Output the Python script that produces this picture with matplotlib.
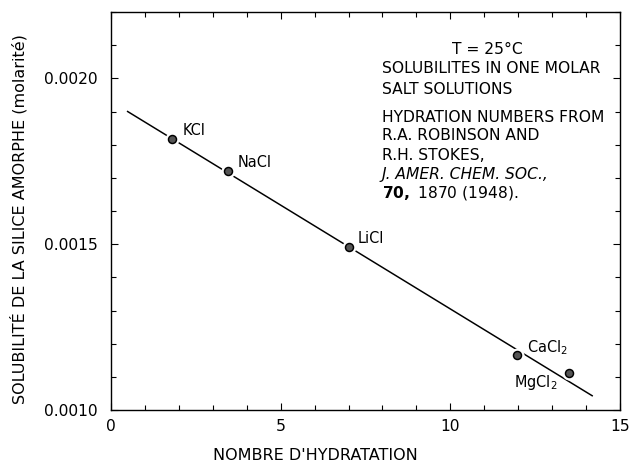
import numpy as np
import matplotlib
matplotlib.use('Agg')
import matplotlib.pyplot as plt
from matplotlib.ticker import MultipleLocator, FixedFormatter, FixedLocator

# salts: hydration number vs silica solubility (molar)
salts = ['KCl', 'NaCl', 'LiCl', 'CaCl$_2$', 'MgCl$_2$']
hydration = [1.79, 3.44, 7.02, 11.97, 13.51]
solubility = [0.001818, 0.001721, 0.001490, 0.001167, 0.001112]

# fitted line end points
fit_x = [0.49, 14.18]
fit_y = [0.001900, 0.001043]

xticks = [0, 5, 10, 15]
xticklabels = ['0', '5', '10', '15']
yticks = [0.0010, 0.0015, 0.0020]
yticklabels = ['0.0010', '0.0015', '0.0020']

plt.rcParams['font.family'] = ['DejaVu Sans']

fig = plt.figure(figsize=(630 / 72, 466 / 72), dpi=72)
ax = fig.add_axes([111 / 630, 56 / 466, 509 / 630, 398 / 466])

ax.plot(fit_x, fit_y, c='black', lw=1.5, zorder=2)
ax.plot(hydration, solubility, 'o', ms=13, mfc='white', mec='white', zorder=3)
ax.plot(hydration, solubility, 'o', ms=8, mfc='#555555', mec='black', mew=1.5, zorder=4)

# label offsets in points (dpi 72 -> pixels)
offsets = [(11, 8), (10, 8), (8, 9), (10, 7), (-12, -10)]
for name, x, y, off in zip(salts, hydration, solubility, offsets):
    ha = 'right' if off[0] < 0 else 'left'
    ax.annotate(name, (x, y), xytext=off, textcoords='offset points',
                ha=ha, va='center', fontsize=14.5)

ax.set_xlim(0, 15)
ax.set_ylim(0.0010, 0.0022)
ax.xaxis.set_major_locator(FixedLocator(xticks))
ax.xaxis.set_major_formatter(FixedFormatter(xticklabels))
ax.xaxis.set_minor_locator(MultipleLocator(1))
ax.yaxis.set_major_locator(FixedLocator(yticks))
ax.yaxis.set_major_formatter(FixedFormatter(yticklabels))
ax.yaxis.set_minor_locator(MultipleLocator(0.0001))
ax.tick_params(which='both', direction='in', top=True, right=True, width=1.1)
ax.tick_params(which='major', length=7, labelsize=15.5)
ax.tick_params(axis='y', which='major', pad=13)
ax.tick_params(axis='x', which='major', pad=9)
ax.tick_params(which='minor', length=5)
for s in ax.spines.values():
    s.set_linewidth(1.4)

fig.text(315 / 630, 1 - 455 / 466, "NOMBRE D'HYDRATATION", ha='center', va='center', fontsize=16)
fig.text(19 / 630, 1 - 219 / 466, 'SOLUBILITÉ DE LA SILICE AMORPHE (molarité)',
         rotation=90, ha='center', va='center', fontsize=16)

x0 = 382 / 630
fig.text(452 / 630, 1 - 50 / 466, 'T = 25°C', va='center', fontsize=15.5)
lines = [
    ('SOLUBILITES IN ONE MOLAR', 68, 'normal'),
    ('SALT SOLUTIONS', 89, 'normal'),
    ('HYDRATION NUMBERS FROM', 117, 'normal'),
    ('R.A. ROBINSON AND', 136, 'normal'),
    ('R.H. STOKES,', 155, 'normal'),
    ('J. AMER. CHEM. SOC.,', 175, 'italic'),
    (r'$\mathbf{70,}$ 1870 (1948).', 193, 'normal'),
]
for txt, ypx, style in lines:
    fig.text(x0, 1 - ypx / 466, txt, va='center', fontsize=15.5, style=style)

fig.savefig('out.png', dpi=72, facecolor='white')
